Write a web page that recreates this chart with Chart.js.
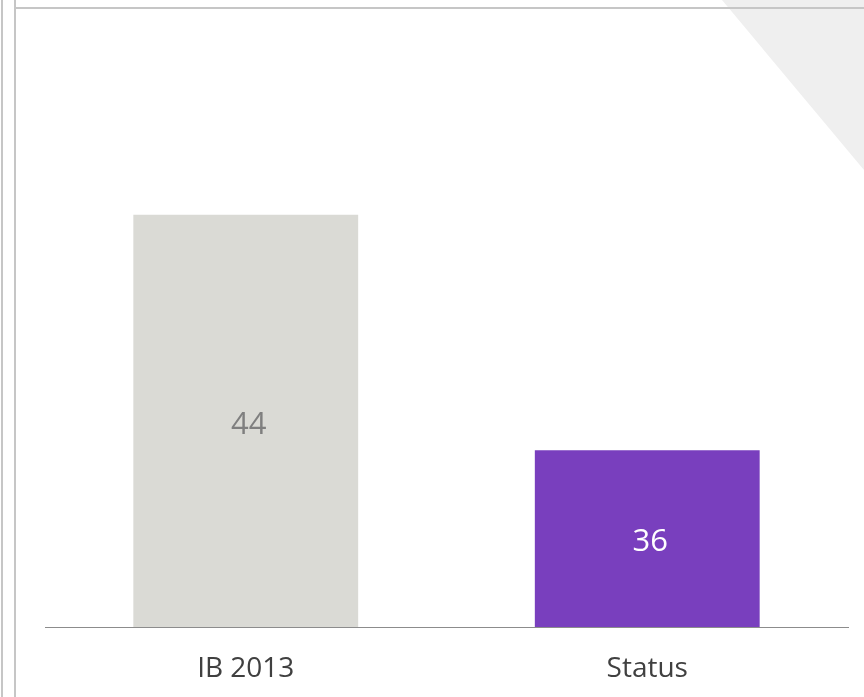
<!DOCTYPE html>
<html>
<head>
<meta charset="utf-8">
<script src="https://cdn.jsdelivr.net/npm/chart.js@4.4.0/dist/chart.umd.min.js"></script>
<style>
  html, body { margin: 0; padding: 0; background: #fff; }
  #wrap { position: relative; width: 864px; height: 697px; overflow: hidden; }
  .vline { position: absolute; top: 0; width: 2px; height: 697px; background: #c6c6c6; }
  #topline { position: absolute; left: 15px; top: 7px; width: 849px; height: 2px; background: #c6c6c6; }
  #corner { position: absolute; left: 722px; top: 0; width: 142px; height: 170px; background: #efefef;
            clip-path: polygon(0 0, 100% 0, 100% 100%); }
  canvas { position: absolute; left: 0; top: 0; }
</style>
</head>
<body>
<div id="wrap">
  <div id="corner"></div>
  <div class="vline" style="left:1px"></div>
  <div class="vline" style="left:14px"></div>
  <div id="topline"></div>
  <canvas id="chart" width="864" height="697"></canvas>
</div>
<script>
const categories = ['IB 2013', 'Status'];
const values = [44, 36];
const barColors = ['#dadad5', '#793fbe'];
const labelColors = ['#7f7f7f', '#ffffff'];

// Werte mittig in die Balken schreiben
const valueLabels = {
  id: 'valueLabels',
  afterDraw(chart) {
    const c = chart.ctx;
    const xs = chart.scales.x;
    const ys = chart.scales.y;
    c.save();
    c.font = '31px "Open Sans"';
    c.textAlign = 'center';
    c.textBaseline = 'middle';
    values.forEach((v, i) => {
      const x = xs.getPixelForValue(i);
      const y = (ys.getPixelForValue(v) + ys.getPixelForValue(ys.min)) / 2;
      c.fillStyle = labelColors[i];
      c.fillText(String(v), x + 3, y + 4);
    });
    c.restore();
  }
};

const chart = new Chart(document.getElementById('chart'), {
  type: 'bar',
  data: {
    labels: categories,
    datasets: [{
      data: values,
      backgroundColor: barColors,
      borderWidth: 0,
      barPercentage: 0.56,
      categoryPercentage: 1
    }]
  },
  options: {
    responsive: false,
    animation: false,
    layout: { padding: { left: 45, right: 16, top: 38, bottom: 14 } },
    plugins: { legend: { display: false }, tooltip: { enabled: false } },
    scales: {
      x: {
        grid: { display: false, drawTicks: false },
        border: { color: '#8c8c8c', width: 1 },
        ticks: { color: '#404040', font: { family: 'Open Sans', size: 28 }, padding: 25 },
        afterFit(scale) { scale.height = 56; }
      },
      y: {
        display: false,
        min: 30,
        max: 50
      }
    }
  },
  plugins: [valueLabels]
});
</script>
</body>
</html>
